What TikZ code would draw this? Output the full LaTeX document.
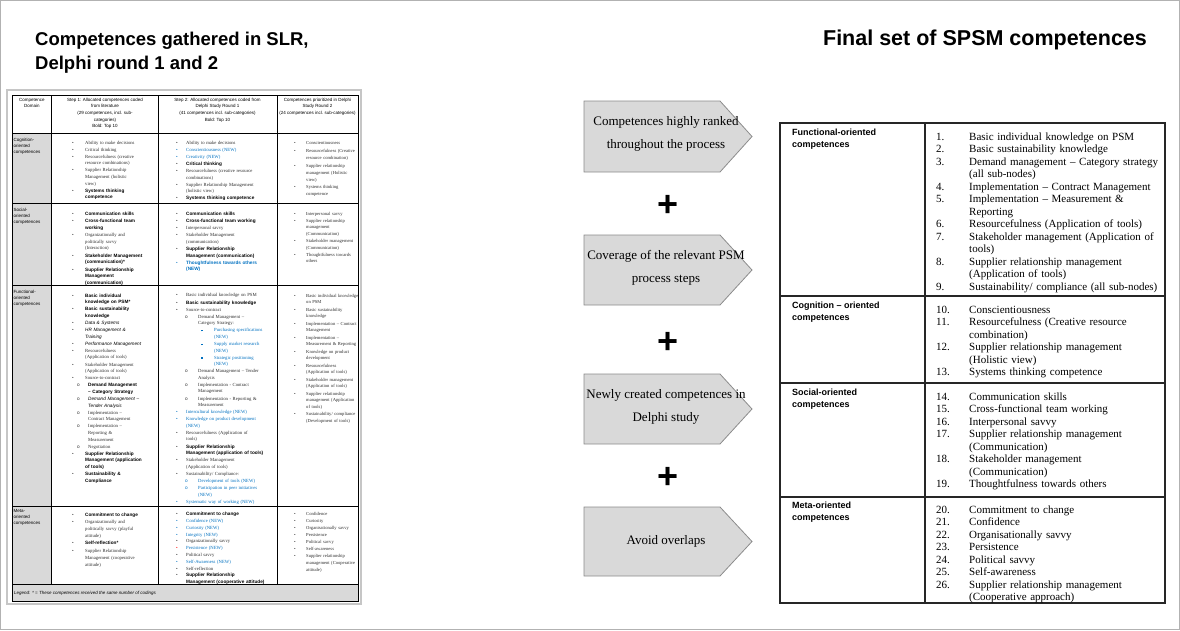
\documentclass[tikz,border=0pt]{standalone}
\usepackage{fontspec}
\setmainfont{Liberation Serif}
\setsansfont{Liberation Sans}
\definecolor{tblblue}{RGB}{0,112,192}
\definecolor{txtgray}{RGB}{45,45,45}
\definecolor{domgray}{RGB}{217,217,217}
\definecolor{arrfill}{RGB}{217,217,217}
\definecolor{arrline}{RGB}{140,140,140}
\newlength\Lbw \newlength\Lso \newlength\Lst
\newcommand\NL{\newline}
\newcommand\colset[3]{\setlength\Lbw{#1}\setlength\Lso{#2}\setlength\Lst{#3}\setlength\parskip{0.5pt}}
\newcommand\Bi[2][txtgray]{\par\noindent\hangindent=\Lbw\hangafter=1\makebox[\Lbw][l]{\color{#1}\textbullet}#2}
\newcommand\Si[2][txtgray]{\par\noindent\hangindent=\Lst\hangafter=1\hspace*{\Lso}\makebox[\dimexpr\Lst-\Lso\relax][l]{\color{#1}\sffamily o}#2}
\newcommand\SSi[1]{\par\noindent\hangindent=38pt\hangafter=1\hspace*{25pt}\makebox[13pt][l]{\color{tblblue}\rule[0.3pt]{1.3pt}{1.3pt}}#1}
\newcommand\Sb[1]{{\sffamily\bfseries\color{black}#1}}
\newcommand\Sbn[1]{{\sffamily\bfseries\color{tblblue}#1}}
\newcommand\Sit[1]{{\sffamily\itshape\color{black}#1}}
\newcommand\Nw[1]{{\color{tblblue}#1}}
\newcommand\Ni[2]{\par\noindent\hangindent=33pt\hangafter=1\makebox[33pt][l]{#1}#2}
\tikzset{
  cell/.style={anchor=north west, inner sep=0pt, text width=100pt, align=left, text=txtgray, font=\fontsize{4.7}{6.6}\selectfont},
  c1/.style={cell, execute at begin node={\colset{13pt}{5pt}{16pt}}},
  c2/.style={cell, execute at begin node={\colset{10pt}{9pt}{22pt}}},
  c3/.style={cell, execute at begin node={\colset{12pt}{5pt}{16pt}}},
  hdr/.style={anchor=north, inner sep=0pt, align=center, font=\sffamily\fontsize{4.5}{6.6}\selectfont},
  dom/.style={anchor=north west, inner sep=0pt, align=left, font=\sffamily\fontsize{4.5}{6.2}\selectfont},
  tline/.style={line width=0.6pt, black},
  arrowbox/.style={fill=arrfill, draw=arrline, line width=0.8pt},
  arrtext/.style={align=center, font=\fontsize{13}{23}\selectfont, inner sep=0pt},
  plus/.style={font=\sffamily\bfseries\fontsize{36}{36}\selectfont, inner sep=0pt},
  title/.style={anchor=base west, inner sep=0pt, font=\sffamily\bfseries\fontsize{18.5}{24}\selectfont},
  rtitle/.style={anchor=base, inner sep=0pt, font=\sffamily\bfseries\fontsize{21.5}{24}\selectfont},
  rlab/.style={anchor=north west, inner sep=0pt, align=left, font=\sffamily\bfseries\fontsize{9}{12}\selectfont},
  ritems/.style={anchor=north west, inner sep=0pt, text width=228pt, align=left, font=\fontsize{11}{12.5}\selectfont},
  rline/.style={line width=1.1pt, black!85},
}
\begin{document}
\begin{tikzpicture}[x=1pt,y=-1pt]
\useasboundingbox (0,0) rectangle (1180,630);
\draw[gray!60, line width=0.8pt] (0.5,0.5) rectangle (1179.5,629.5);

% titles
\node[title] (ltitle1) at (35,45) {Competences gathered in SLR,};
\node[title] (ltitle2) at (35,69) {Delphi round 1 and 2};
\node[rtitle] (rtitle) at (985,45) {Final set of SPSM competences};

% ---------------- left table ----------------
\draw[gray!45, line width=1.5pt] (7,90) rectangle (361,604);
\fill[domgray] (12,133) rectangle (51.5,584);
\fill[domgray] (12,584) rectangle (358,601);
\draw[tline] (12,95) rectangle (358,601);
\foreach \x in {51.5,158,277} \draw[tline] (\x,95) -- (\x,584);
\foreach \y in {133,203,285,506,584} \draw[tline] (12,\y) -- (358,\y);

\node[hdr] (h0) at (31.8,97.8) {Competence\\Domain};
\node[hdr] (h1) at (105,97.8) {Step 1: Allocated competences coded\\from literature\\(29 competences, incl. sub-\\categories)\\Bold: Top 10};
\node[hdr] (h2) at (217.5,97.8) {Step 2: Allocated competences coded from\\Delphi Study Round 1\\(41 competences incl. sub-categories)\\Bold: Top 10};
\node[hdr] (h3) at (317.5,97.8) {Competences prioritized in Delphi\\Study Round 2\\(24 competences incl. sub-categories)};

\node[dom] (d1) at (13.5,137.8) {Cognition-\\oriented\\competences};
\node[dom] (d2) at (13.5,207.8) {Social-\\oriented\\competences};
\node[dom] (d3) at (13.5,289.8) {Functional-\\oriented\\competences};
\node[dom] (d4) at (13.5,508.8) {Meta-\\oriented\\competences};

% cognition
\node[c1] (cg1) at (72,136.7) {\Bi{Ability to make decisions}
\Bi{Critical thinking}
\Bi{Resourcefulness (creative\NL resource combinations)}
\Bi{Supplier Relationship\NL Management (holistic\NL view)}
\Bi{\Sb{Systems thinking\NL competence}}\par};
\node[c2] (cg2) at (176,136.7) {\Bi{Ability to make decisions}
\Bi[tblblue]{\Nw{Conscientiousness (NEW)}}
\Bi[tblblue]{\Nw{Creativity (NEW)}}
\Bi{\Sb{Critical thinking}}
\Bi{Resourcefulness (creative resource\NL combinations)}
\Bi{Supplier Relationship Management\NL (holistic view)}
\Bi{\Sb{Systems thinking competence}}\par};
\node[c3,font=\fontsize{4.6}{6.9}\selectfont] (cg3) at (294,136.7) {\setlength\parskip{0.9pt}\Bi{Conscientiousness}
\Bi{Resourcefulness (Creative\NL resource combination)}
\Bi{Supplier relationship\NL management (Holistic\NL view)}
\Bi{Systems thinking\NL competence}\par};

% social
\node[c1] (so1) at (72,207.7) {\setlength\parskip{0.8pt}\Bi{\Sb{Communication skills}}
\Bi{\Sb{Cross-functional team\NL working}}
\Bi{Organizationally and\NL politically savvy\NL (Interaction)}
\Bi{\Sb{Stakeholder Management\NL (communication)*}}
\Bi{\Sb{Supplier Relationship\NL Management\NL (communication)}}\par};
\node[c2] (so2) at (176,207.7) {\setlength\parskip{0.6pt}\Bi{\Sb{Communication skills}}
\Bi{\Sb{Cross-functional team working}}
\Bi{Interpersonal savvy}
\Bi{Stakeholder Management\NL (communication)}
\Bi{\Sb{Supplier Relationship\NL Management (communication)}}
\Bi[tblblue]{\Sbn{Thoughtfulness towards others\NL (NEW)}}\par};
\node[c3,font=\fontsize{4.6}{6.6}\selectfont] (so3) at (294,207.7) {\Bi{Interpersonal savvy}
\Bi{Supplier relationship\NL management\NL (Communication)}
\Bi{Stakeholder management\NL (Communication)}
\Bi{Thoughtfulness towards\NL others}\par};

% functional
\node[c1] (fu1) at (72,289.7) {\Bi{\Sb{Basic individual\NL knowledge on PSM*}}
\Bi{\Sb{Basic sustainability\NL knowledge}}
\Bi{\Sit{Data \& Systems}}
\Bi{\Sit{HR Management \&\NL Training}}
\Bi{\Sit{Performance Management}}
\Bi{Resourcefulness\NL (Application of tools)}
\Bi{Stakeholder Management\NL (Application of tools)}
\Bi{Source-to-contract}
\Si{\Sb{Demand Management\NL -- Category Strategy}}
\Si{\Sit{Demand Management --\NL Tender Analysis}}
\Si{Implementation --\NL Contract Management}
\Si{Implementation --\NL Reporting \&\NL Measurement}
\Si{Negotiation}
\Bi{\Sb{Supplier Relationship\NL Management (application\NL of tools)}}
\Bi{\Sb{Sustainability \&\NL Compliance}}\par};
\node[c2] (fu2) at (176,289.7) {\setlength\parskip{0.45pt}\Bi{Basic individual knowledge on PSM}
\Bi{\Sb{Basic sustainability knowledge}}
\Bi{Source-to-contract}
\Si{Demand Management --\NL Category Strategy:}
\SSi{\Nw{Purchasing specifications\NL (NEW)}}
\SSi{\Nw{Supply market research\NL (NEW)}}
\SSi{\Nw{Strategic positioning\NL (NEW)}}
\Si{Demand Management -- Tender\NL Analysis}
\Si{Implementation - Contract\NL Management}
\Si{Implementation - Reporting \&\NL Measurement}
\Bi[tblblue]{\Nw{Intercultural knowledge (NEW)}}
\Bi[tblblue]{\Nw{Knowledge on product development\NL (NEW)}}
\Bi{Resourcefulness (Application of\NL tools)}
\Bi{\Sb{Supplier Relationship\NL Management (application of tools)}}
\Bi{Stakeholder Management\NL (Application of tools)}
\Bi{Sustainability/ Compliance:}
\Si[tblblue]{\Nw{Development of tools (NEW)}}
\Si[tblblue]{\Nw{Participation in peer initiatives\NL (NEW)}}
\Bi[tblblue]{\Nw{Systematic way of working (NEW)}}\par};
\node[c3,font=\fontsize{4.6}{6.1}\selectfont] (fu3) at (294,289.7) {\setlength\parskip{1.8pt}\Bi{Basic individual knowledge\NL on PSM}
\Bi{Basic sustainability\NL knowledge}
\Bi{Implementation -- Contract\NL Management}
\Bi{Implementation --\NL Measurement \& Reporting}
\Bi{Knowledge on product\NL development}
\Bi{Resourcefulness\NL (Application of tools)}
\Bi{Stakeholder management\NL (Application of tools)}
\Bi{Supplier relationship\NL management (Application\NL of tools)}
\Bi{Sustainability/ compliance\NL (Development of tools)}\par};

% meta
\node[c1,font=\fontsize{4.7}{7}\selectfont] (me1) at (72,508.7) {\setlength\parskip{0.3pt}\Bi{\Sb{Commitment to change}}
\Bi{Organizationally and\NL politically savvy (playful\NL attitude)}
\Bi{\Sb{Self-reflection*}}
\Bi{Supplier Relationship\NL Management (cooperative\NL attitude)}\par};
\node[c2,font=\fontsize{4.7}{6.8}\selectfont] (me2) at (176,508.7) {\setlength\parskip{0pt}\Bi{\Sb{Commitment to change}}
\Bi[tblblue]{\Nw{Confidence (NEW)}}
\Bi[tblblue]{\Nw{Curiosity (NEW)}}
\Bi[tblblue]{\Nw{Integrity (NEW)}}
\Bi{Organizationally savvy}
\Bi[red]{\Nw{Persistence (NEW)}}
\Bi{Political savvy}
\Bi[tblblue]{\Nw{Self-Awareness (NEW)}}
\Bi{Self-reflection}
\Bi{\Sb{Supplier Relationship\NL Management (cooperative attitude)}}\par};
\node[c3,font=\fontsize{4.6}{6.9}\selectfont] (me3) at (294,508.7) {\setlength\parskip{0pt}\Bi{Confidence}
\Bi{Curiosity}
\Bi{Organisationally savvy}
\Bi{Persistence}
\Bi{Political savvy}
\Bi{Self-awareness}
\Bi{Supplier relationship\NL management (Cooperative\NL attitude)}\par};

\node[anchor=base west, inner sep=0pt, font=\sffamily\itshape\fontsize{4.5}{6}\selectfont] (legend) at (14,594.5) {Legend: * = These competences received the same number of codings};

% ---------------- middle arrows ----------------
\draw[arrowbox] (584,101) -- (720,101) -- (752,136.5) -- (720,172) -- (584,172) -- cycle;
\node[arrtext] (a1) at (666,134) {Competences highly ranked\\throughout the process};
\node[plus] (p1) at (668,206) {+};
\draw[arrowbox] (584,235) -- (720,235) -- (752,270) -- (720,305) -- (584,305) -- cycle;
\node[arrtext] (a2) at (666,268) {Coverage of the relevant PSM\\process steps};
\node[plus] (p2) at (668,343) {+};
\draw[arrowbox] (584,374) -- (720,374) -- (752,409) -- (720,444) -- (584,444) -- cycle;
\node[arrtext] (a3) at (666,407) {Newly created competences in\\Delphi study};
\node[plus] (p3) at (668,478) {+};
\draw[arrowbox] (584,507) -- (720,507) -- (752,541.5) -- (720,576) -- (584,576) -- cycle;
\node[arrtext] (a4) at (666,541.5) {Avoid overlaps};

% ---------------- right table ----------------
\draw[rline] (780,123) rectangle (1165,603);
\draw[rline] (925,123) -- (925,603);
\foreach \y in {296,383,497} \draw[rline] (780,\y) -- (1165,\y);

\node[rlab] (l1) at (792,128.6) {Functional-oriented\\competences};
\node[rlab] (l2) at (792,301.6) {Cognition -- oriented\\competences};
\node[rlab] (l3) at (792,388.6) {Social-oriented\\competences};
\node[rlab] (l4) at (792,501.6) {Meta-oriented\\competences};

\node[ritems] (i1) at (936,127.5) {\Ni{1.}{Basic individual knowledge on PSM}
\Ni{2.}{Basic sustainability knowledge}
\Ni{3.}{Demand management -- Category strategy\NL (all sub-nodes)}
\Ni{4.}{Implementation -- Contract Management}
\Ni{5.}{Implementation -- Measurement \&\NL Reporting}
\Ni{6.}{Resourcefulness (Application of tools)}
\Ni{7.}{Stakeholder management (Application of\NL tools)}
\Ni{8.}{Supplier relationship management\NL (Application of tools)}
\Ni{9.}{Sustainability/ compliance (all sub-nodes)}\par};
\node[ritems] (i2) at (936,300.5) {\Ni{10.}{Conscientiousness}
\Ni{11.}{Resourcefulness (Creative resource\NL combination)}
\Ni{12.}{Supplier relationship management\NL (Holistic view)}
\Ni{13.}{Systems thinking competence}\par};
\node[ritems] (i3) at (936,387.5) {\Ni{14.}{Communication skills}
\Ni{15.}{Cross-functional team working}
\Ni{16.}{Interpersonal savvy}
\Ni{17.}{Supplier relationship management\NL (Communication)}
\Ni{18.}{Stakeholder management\NL (Communication)}
\Ni{19.}{Thoughtfulness towards others}\par};
\node[ritems] (i4) at (936,500.5) {\Ni{20.}{Commitment to change}
\Ni{21.}{Confidence}
\Ni{22.}{Organisationally savvy}
\Ni{23.}{Persistence}
\Ni{24.}{Political savvy}
\Ni{25.}{Self-awareness}
\Ni{26.}{Supplier relationship management\NL (Cooperative approach)}\par};
\end{tikzpicture}
\end{document}
